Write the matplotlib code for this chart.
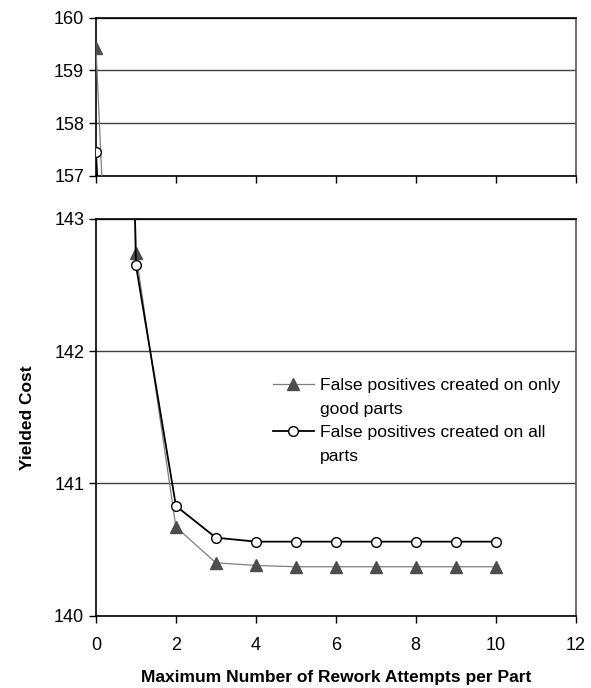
import matplotlib
matplotlib.use("Agg")
import matplotlib.pyplot as plt
from matplotlib.lines import Line2D

plt.rcParams['font.family'] = ['Liberation Sans', 'DejaVu Sans']

attempts = [0, 1, 2, 3, 4, 5, 6, 7, 8, 9, 10]
cost_good_only = [159.43, 142.74, 140.67, 140.40, 140.38, 140.37, 140.37, 140.37, 140.37, 140.37, 140.37]
cost_all_parts = [157.45, 142.65, 140.83, 140.59, 140.56, 140.56, 140.56, 140.56, 140.56, 140.56, 140.56]
label_good = ["False positives created on only", "good parts"]
label_all = ["False positives created on all", "parts"]
x_ticks = [0, 2, 4, 6, 8, 10, 12]
top_yticks = [157, 158, 159, 160]
bottom_yticks = [140, 141, 142, 143]

fig = plt.figure(figsize=(5.91, 6.88), dpi=100)
ax_top = fig.add_axes([0.1624, 0.7442, 0.8116, 0.2301])
ax_bot = fig.add_axes([0.1624, 0.1051, 0.8116, 0.5766])

for ax in (ax_top, ax_bot):
    l1, = ax.plot(attempts, cost_good_only, color='#7f7f7f', lw=0.9, marker='^', ms=9,
                  mfc='#4d4d4d', mec='#4d4d4d', zorder=3)
    l2, = ax.plot(attempts, cost_all_parts, color='black', lw=1.3, marker='o', ms=7,
                  mfc='white', mec='black', mew=1.0, zorder=4)
    ax.set_xlim(0, 12)
    ax.set_xticks(x_ticks)
    ax.yaxis.grid(True, color='#404040', lw=1.0)
    ax.set_axisbelow(True)
    ax.tick_params(direction='out', length=5, width=1, labelsize=13, color='black')
    for s in ax.spines.values():
        s.set_linewidth(1.2)
        s.set_color('black')
    ax.spines['right'].set_color('#555555')

ax_top.set_ylim(157, 160)
ax_top.set_yticks(top_yticks)
ax_top.tick_params(axis='x', labelbottom=False)

ax_bot.set_ylim(140, 143)
ax_bot.set_yticks(bottom_yticks)
ax_bot.tick_params(axis='x', pad=10)
ax_bot.set_xlabel("Maximum Number of Rework Attempts per Part", fontsize=12.5, fontweight='bold', labelpad=12)
ax_bot.set_ylabel("Yielded Cost", fontsize=12.5, fontweight='bold', labelpad=14)

blank = Line2D([], [], color='none', lw=0)
leg = ax_bot.legend(handles=[l1, blank, l2, blank],
                    labels=[label_good[0], label_good[1], label_all[0], label_all[1]],
                    frameon=False, loc='upper left',
                    bbox_to_anchor=(0.355, 0.617), fontsize=12.6, handlelength=2.3,
                    handletextpad=0.35, labelspacing=0.48, borderaxespad=0)

fig.savefig("out.png", dpi=100)
